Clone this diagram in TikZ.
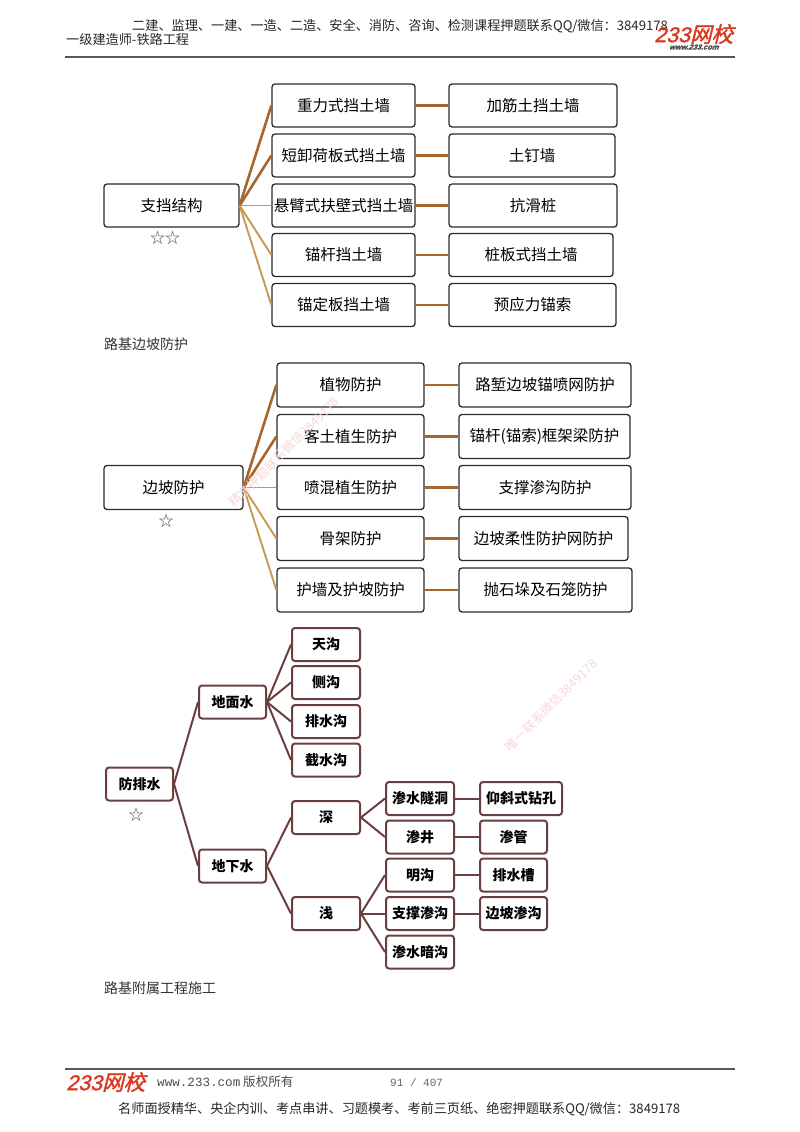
\documentclass[tikz,border=0pt]{standalone}
\usepackage{fontspec}
\setmainfont{Noto Sans CJK SC}
\newfontfamily\monofont{Liberation Mono}
\newfontfamily\logofont[FakeSlant=0.25,FakeBold=1.5]{Liberation Sans}
\newfontfamily\logocjk[FakeSlant=0.25,FakeBold=1.5]{Noto Sans CJK SC}
\usepackage{xcolor}
\usetikzlibrary{calc}
\definecolor{boxline}{HTML}{2B2B2B}
\definecolor{linkdark}{HTML}{A5672F}
\definecolor{linklight}{HTML}{C69A55}
\definecolor{maroon}{HTML}{6B3F3F}
\definecolor{logored}{HTML}{D9381E}
\definecolor{markpink}{HTML}{F5D8D8}
\tikzset{
	plainbox/.style={draw=boxline,line width=1.3pt,rounded corners=3pt,fill=white,font=\fontsize{15.5}{18}\selectfont,inner sep=0pt},
	waterbox/.style={draw=maroon,line width=2pt,rounded corners=3pt,fill=white,font=\fontsize{14}{16}\selectfont\bfseries,inner sep=0pt,minimum height=33pt},
	darklink/.style={draw=linkdark,line width=2.6pt},
	lightlink/.style={draw=linklight,line width=1.9pt},
	waterlink/.style={draw=maroon,line width=2pt},
	page/.style={font=\fontsize{13.15}{15}\selectfont,inner sep=0pt,anchor=west,text=black!85},
	note/.style={font=\fontsize{14}{16}\selectfont,inner sep=0pt,anchor=west,text=black!80},
	star/.style={font=\fontsize{15}{17}\selectfont,inner sep=0pt,text=black!70},
	stamp/.style={font=\fontsize{12.5}{15}\selectfont,text=markpink,inner sep=0pt,rotate=45},
}
\begin{document}
\begin{tikzpicture}[x=1pt,y=-1pt]
	\useasboundingbox (0,0) rectangle (800,1132);
	% header and footer
	\node[page] (headtop) at (132,26) {二建、监理、一建、一造、二造、安全、消防、咨询、检测课程押题联系QQ/微信：3849178};
	\node[page] (headleft) at (66,40) {一级建造师-铁路工程};
	\node[inner sep=0pt,anchor=west,text=logored,font=\fontsize{21.5}{21}\logofont] (headlogo) at (654,34) {233{\logocjk 网校}};
	\node[inner sep=0pt,text=black!70,font=\fontsize{7.5}{8}\bfseries\itshape\logofont] (headurl) at (694,47) {www.233.com};
	\coordinate (headruleleft) at (65,57);
	\coordinate (headruleright) at (735,57);
	\draw[black!65,line width=1.2pt] (headruleleft) -- (headruleright);
	\coordinate (footruleleft) at (65,1069);
	\coordinate (footruleright) at (735,1069);
	\draw[black!65,line width=1.2pt] (footruleleft) -- (footruleright);
	\node[inner sep=0pt,anchor=west,text=logored,font=\fontsize{21.5}{21}\logofont] (footlogo) at (66,1082) {233{\logocjk 网校}};
	\node[page,text=black!70,font=\fontsize{12.6}{15}\selectfont] (footurl) at (157,1082) {{\monofont www.233.com} 版权所有};
	\node[page,text=black!60,font=\fontsize{11}{14}\monofont] (footpage) at (390,1083) {91 / 407};
	\node[page] (foottext) at (118,1109) {名师面授精华、央企内训、考点串讲、习题模考、考前三页纸、绝密押题联系QQ/微信：3849178};
	% first tree
	\node[plainbox,minimum width=135pt,minimum height=43pt] (zhidang) at (171.5,205.5) {支挡结构};
	\node[plainbox,minimum width=143pt,minimum height=43pt] (zhong) at (343.5,105.5) {重力式挡土墙};
	\node[plainbox,minimum width=143pt,minimum height=43pt] (duan) at (343.5,155.5) {短卸荷板式挡土墙};
	\node[plainbox,minimum width=143pt,minimum height=43pt] (xuan) at (343.5,205.5) {悬臂式扶壁式挡土墙};
	\node[plainbox,minimum width=143pt,minimum height=43pt] (maogan) at (343.5,255) {锚杆挡土墙};
	\node[plainbox,minimum width=143pt,minimum height=43pt] (maoding) at (343.5,305) {锚定板挡土墙};
	\node[plainbox,minimum width=168pt,minimum height=43pt] (jiajin) at (533,105.5) {加筋土挡土墙};
	\node[plainbox,minimum width=166pt,minimum height=43pt] (tuding) at (532,155.5) {土钉墙};
	\node[plainbox,minimum width=168pt,minimum height=43pt] (kanghua) at (533,205.5) {抗滑桩};
	\node[plainbox,minimum width=164pt,minimum height=43pt] (zhuban) at (531,255) {桩板式挡土墙};
	\node[plainbox,minimum width=167pt,minimum height=43pt] (yuyingli) at (532.5,305) {预应力锚索};
	\draw[darklink] (zhidang.east) -- (zhong.west);
	\draw[darklink] (zhidang.east) -- (duan.west);
	\draw[lightlink] (zhidang.east) -- (xuan.west);
	\draw[lightlink] (zhidang.east) -- (maogan.west);
	\draw[lightlink] (zhidang.east) -- (maoding.west);
	\draw[darklink] (zhong.east) -- (jiajin.west);
	\draw[darklink] (duan.east) -- (tuding.west);
	\draw[darklink] (xuan.east) -- (kanghua.west);
	\draw[darklink] (maogan.east) -- (zhuban.west);
	\draw[darklink] (maoding.east) -- (yuyingli.west);
	\node[star] (starsone) at (165,238) {☆☆};
	\node[note] (lujibianpo) at (104,344) {路基边坡防护};
	% second tree
	\node[plainbox,minimum width=139pt,minimum height=44pt] (bianpo) at (173.5,487.5) {边坡防护};
	\node[plainbox,minimum width=147pt,minimum height=44pt] (zhiwu) at (350.5,385) {植物防护};
	\node[plainbox,minimum width=147pt,minimum height=44pt] (ketu) at (350.5,436.5) {客土植生防护};
	\node[plainbox,minimum width=147pt,minimum height=44pt] (penhun) at (350.5,487.5) {喷混植生防护};
	\node[plainbox,minimum width=147pt,minimum height=44pt] (gujia) at (350.5,538.5) {骨架防护};
	\node[plainbox,minimum width=147pt,minimum height=44pt] (huqiang) at (350.5,590) {护墙及护坡防护};
	\node[plainbox,minimum width=172pt,minimum height=44pt] (luqian) at (545,385) {路堑边坡锚喷网防护};
	\node[plainbox,minimum width=171pt,minimum height=44pt] (maogankuang) at (544.5,436.5) {锚杆(锚索)框架梁防护};
	\node[plainbox,minimum width=172pt,minimum height=44pt] (zhicheng) at (545,487.5) {支撑渗沟防护};
	\node[plainbox,minimum width=169pt,minimum height=44pt] (rouxing) at (543.5,538.5) {边坡柔性防护网防护};
	\node[plainbox,minimum width=173pt,minimum height=44pt] (paoshi) at (545.5,590) {抛石垛及石笼防护};
	\draw[darklink] (bianpo.east) -- (zhiwu.west);
	\draw[darklink] (bianpo.east) -- (ketu.west);
	\draw[lightlink] (bianpo.east) -- (penhun.west);
	\draw[lightlink] (bianpo.east) -- (gujia.west);
	\draw[lightlink] (bianpo.east) -- (huqiang.west);
	\draw[darklink] (zhiwu.east) -- (luqian.west);
	\draw[darklink] (ketu.east) -- (maogankuang.west);
	\draw[darklink] (penhun.east) -- (zhicheng.west);
	\draw[darklink] (gujia.east) -- (rouxing.west);
	\draw[darklink] (huqiang.east) -- (paoshi.west);
	\node[star] (starstwo) at (166,521) {☆};
	% third tree
	\node[waterbox,minimum width=67pt] (fangpai) at (139.5,784) {防排水};
	\node[waterbox,minimum width=67pt] (dimian) at (232.5,702) {地面水};
	\node[waterbox,minimum width=67pt] (dixia) at (232.5,866) {地下水};
	\node[waterbox,minimum width=68pt] (tiangou) at (326,644.5) {天沟};
	\node[waterbox,minimum width=68pt] (cegou) at (326,682.5) {侧沟};
	\node[waterbox,minimum width=68pt] (paishui) at (326,721.5) {排水沟};
	\node[waterbox,minimum width=68pt] (jieshui) at (326,760) {截水沟};
	\node[waterbox,minimum width=68pt] (shen) at (326,817.5) {深};
	\node[waterbox,minimum width=68pt] (qian) at (326,913.5) {浅};
	\node[waterbox,minimum width=68pt] (suidong) at (420,798.5) {渗水隧洞};
	\node[waterbox,minimum width=68pt] (shenjing) at (420,837) {渗井};
	\node[waterbox,minimum width=68pt] (minggou) at (420,875) {明沟};
	\node[waterbox,minimum width=68pt] (zhigou) at (420,913.5) {支撑渗沟};
	\node[waterbox,minimum width=68pt] (angou) at (420,952) {渗水暗沟};
	\node[waterbox,minimum width=82pt] (yangxie) at (521,798.5) {仰斜式钻孔};
	\node[waterbox,minimum width=67pt] (shenguan) at (513.5,837) {渗管};
	\node[waterbox,minimum width=67pt] (paicao) at (513.5,875) {排水槽};
	\node[waterbox,minimum width=67pt] (biangou) at (513.5,913.5) {边坡渗沟};
	\draw[waterlink] (fangpai.east) -- (dimian.west);
	\draw[waterlink] (fangpai.east) -- (dixia.west);
	\draw[waterlink] (dimian.east) -- (tiangou.west);
	\draw[waterlink] (dimian.east) -- (cegou.west);
	\draw[waterlink] (dimian.east) -- (paishui.west);
	\draw[waterlink] (dimian.east) -- (jieshui.west);
	\draw[waterlink] (dixia.east) -- (shen.west);
	\draw[waterlink] (dixia.east) -- (qian.west);
	\draw[waterlink] (shen.east) -- (suidong.west);
	\draw[waterlink] (shen.east) -- (shenjing.west);
	\draw[waterlink] (qian.east) -- (minggou.west);
	\draw[waterlink] (qian.east) -- (zhigou.west);
	\draw[waterlink] (qian.east) -- (angou.west);
	\draw[waterlink] (suidong.east) -- (yangxie.west);
	\draw[waterlink] (shenjing.east) -- (shenguan.west);
	\draw[waterlink] (minggou.east) -- (paicao.west);
	\draw[waterlink] (zhigou.east) -- (biangou.west);
	\node[star] (starsthree) at (136,815) {☆};
	\node[note] (lujifushu) at (104,988) {路基附属工程施工};
	% watermarks
	\node[stamp] (stampone) at (284,452) {精准押题联系微信3849178};
	\node[stamp] (stamptwo) at (551,705) {唯一联系微信3849178};
\end{tikzpicture}
\end{document}
